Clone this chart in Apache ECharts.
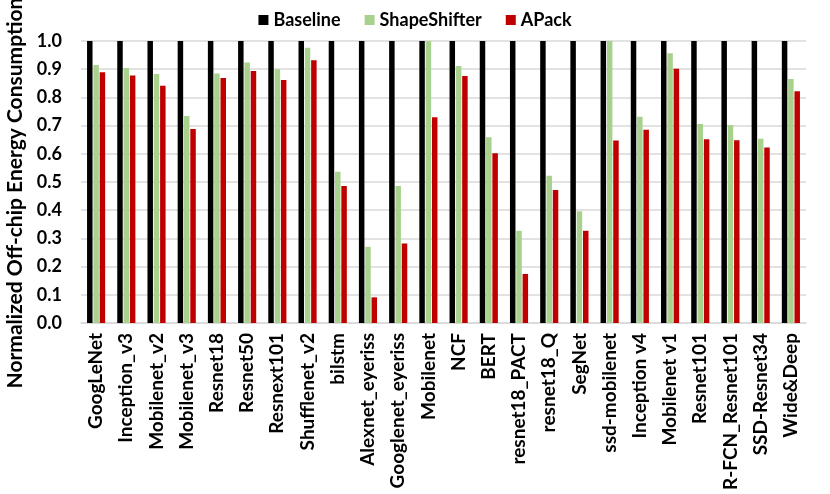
<!DOCTYPE html>
<html><head><meta charset="utf-8">
<script src="https://cdn.jsdelivr.net/npm/echarts@6/dist/echarts.min.js"></script>
<style>html,body{margin:0;padding:0;background:#fff}#c{width:830px;height:494px}</style>
</head><body><div id="c"></div>
<script>
const categories = ["GoogLeNet","Inception_v3","Mobilenet_v2","Mobilenet_v3","Resnet18","Resnet50","Resnext101","Shufflenet_v2","bilstm","Alexnet_eyeriss","Googlenet_eyeriss","Mobilenet","NCF","BERT","resnet18_PACT","resnet18_Q","SegNet","ssd-mobilenet","Inception v4","Mobilenet v1","Resnet101","R-FCN_Resnet101","SSD-Resnet34","Wide&Deep"];
const baseline = [1,1,1,1,1,1,1,1,1,1,1,1,1,1,1,1,1,1,1,1,1,1,1,1];
const shapeShifter = [0.915,0.904,0.883,0.734,0.885,0.924,0.900,0.976,0.536,0.270,0.486,1.0,0.911,0.659,0.327,0.522,0.396,1.0,0.731,0.957,0.706,0.702,0.653,0.865];
const apack = [0.889,0.878,0.841,0.688,0.869,0.894,0.862,0.932,0.486,0.091,0.282,0.730,0.876,0.602,0.174,0.472,0.327,0.647,0.685,0.902,0.652,0.648,0.622,0.822];
const yTicks = [0,0.1,0.2,0.3,0.4,0.5,0.6,0.7,0.8,0.9,1.0];

const FONT = 'Lato';
const chart = echarts.init(document.getElementById('c'));
chart.setOption({
  animation:false,
  textStyle:{fontFamily:FONT},
  legend:{
    top:6, left:'center', itemWidth:10, itemHeight:10, itemGap:24,
    icon:'rect',
    textStyle:{fontFamily:FONT,fontWeight:'bold',fontSize:18,color:'#000'},
    data:['Baseline','ShapeShifter','APack']
  },
  grid:{left:81,right:24,top:41,bottom:171,containLabel:false,outerBoundsMode:'none'},
  xAxis:{
    type:'category', data:categories,
    axisLine:{lineStyle:{color:'#d9d9d9',width:1.5}},
    axisTick:{show:false},
    axisLabel:{rotate:90,interval:0,margin:10,fontFamily:FONT,fontWeight:'bold',fontSize:19,color:'#000'}
  },
  yAxis:{
    type:'value', min:0, max:1, interval:0.1,
    name:'Normalized Off-chip Energy Consumption',
    nameLocation:'middle', nameGap:49, nameRotate:90,
    nameTextStyle:{fontFamily:FONT,fontWeight:'bold',fontSize:21,color:'#000',padding:[0,22,0,0]},
    axisLine:{show:false}, axisTick:{show:false},
    axisLabel:{margin:19,fontFamily:FONT,fontWeight:'bold',fontSize:18,color:'#000',
      formatter:v=>{const t=yTicks.find(x=>Math.abs(x-v)<1e-6);return (t!==undefined?t:v).toFixed(1);}},
    splitLine:{lineStyle:{color:'#d9d9d9',width:1.5}}
  },
  series:[
    {name:'Baseline',type:'bar',data:baseline,itemStyle:{color:'#000000'},barCategoryGap:'40%',barGap:'15%'},
    {name:'ShapeShifter',type:'bar',data:shapeShifter,itemStyle:{color:'#a9d18e'},barCategoryGap:'40%',barGap:'15%'},
    {name:'APack',type:'bar',data:apack,itemStyle:{color:'#c00000'},barCategoryGap:'40%',barGap:'15%'}
  ]
});
</script></body></html>
